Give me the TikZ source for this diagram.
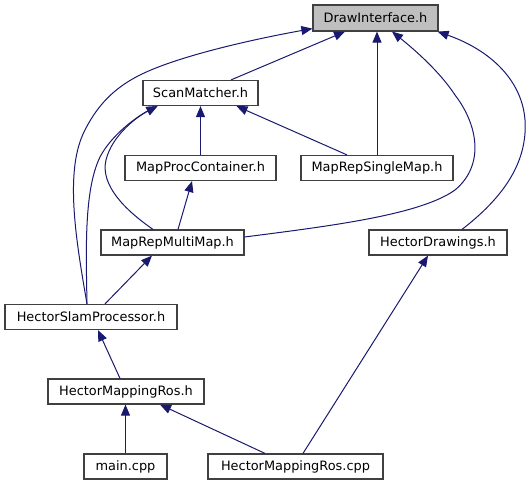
\documentclass[tikz,border=0pt]{standalone}
\usepackage{fontspec}
\setmainfont{DejaVu Sans}
\usetikzlibrary{arrows.meta}
\definecolor{edgeblue}{HTML}{191970}
\definecolor{boxline}{HTML}{404040}
\definecolor{boxgray}{HTML}{BFBFBF}
\begin{document}
\begin{tikzpicture}[x=1pt,y=-1pt,
  filebox/.style={draw=boxline,line width=1.2pt,fill=white,minimum height=25pt,inner sep=0pt,font=\fontsize{12.9}{15}\selectfont},
  edge/.style={draw=edgeblue,line width=1pt,-{Triangle[length=11pt,width=9pt]}}]
\useasboundingbox (0,0) rectangle (530,485);
\node[filebox,fill=boxgray,minimum width=125pt,minimum height=26pt] (di) at (375.5,18) {DrawInterface.h};
\node[filebox,minimum width=115pt] (sm) at (200.5,93) {ScanMatcher.h};
\node[filebox,minimum width=151pt] (mpc) at (200.5,168) {MapProcContainer.h};
\node[filebox,minimum width=152pt] (mrs) at (377,168) {MapRepSingleMap.h};
\node[filebox,minimum width=143pt] (mrm) at (172.5,242.5) {MapRepMultiMap.h};
\node[filebox,minimum width=138pt] (hd) at (438,242.5) {HectorDrawings.h};
\node[filebox,minimum width=172pt] (hsp) at (91,317) {HectorSlamProcessor.h};
\node[filebox,minimum width=156pt] (hmr) at (126,391.5) {HectorMappingRos.h};
\node[filebox,minimum width=83pt] (mainc) at (125.5,466.5) {main.cpp};
\node[filebox,minimum width=175pt] (hmrc) at (295.5,466.5) {HectorMappingRos.cpp};
% straight edges
\draw[edge] ([xshift=30.5pt]sm.north) -- ([xshift=-30.5pt]di.south);
\draw[edge] (mrs.north) -- (mrs.north |- di.south);
\draw[edge] ([xshift=-30pt]mrs.north) -- ([xshift=36pt]sm.south);
\draw[edge] (mpc.north) -- (sm.south);
\draw[edge] ([xshift=5.5pt]mrm.north) -- ([xshift=-8.5pt]mpc.south);
\draw[edge] ([xshift=14pt]hsp.north) -- ([xshift=-20.5pt]mrm.south);
\draw[edge] ([xshift=-6pt]hmr.north) -- ([xshift=7pt]hsp.south);
\draw[edge] (mainc.north) -- (mainc.north |- hmr.south);
\draw[edge] ([xshift=-30.5pt]hmrc.north) -- ([xshift=34pt]hmr.south);
\draw[edge] ([xshift=7.5pt]hmrc.north) -- ([xshift=-10pt]hd.south);
% curved edges
\draw[edge] ([xshift=-19.5pt]mrm.north) .. controls (125,210) and (100,185) .. (106,160)
   .. controls (112,135) and (138,116) .. ([xshift=-43pt]sm.south);
\draw[edge] ([xshift=-4pt]hsp.north) .. controls (86,250) and (84,190) .. (100,157)
   .. controls (112,134) and (138,116) .. ([xshift=-43pt]sm.south);
\draw[edge] ([xshift=-4pt]hsp.north) .. controls (76,240) and (64,170) .. (85,130)
   .. controls (100,100) and (120,85) .. (140,75)
   .. controls (180,55) and (260,38) .. ([yshift=3pt]di.south west);
\draw[edge] ([yshift=5.5pt]mrm.east) .. controls (330,226) and (420,215) .. (455,190)
   .. controls (485,165) and (478,125) .. (455,95)
   .. controls (440,72) and (415,50) .. ([xshift=16.5pt]di.south);
\draw[edge] ([xshift=24pt]hd.north) .. controls (500,200) and (528,165) .. (525,120)
   .. controls (522,80) and (490,50) .. ([xshift=-1pt]di.south east);
\end{tikzpicture}
\end{document}
